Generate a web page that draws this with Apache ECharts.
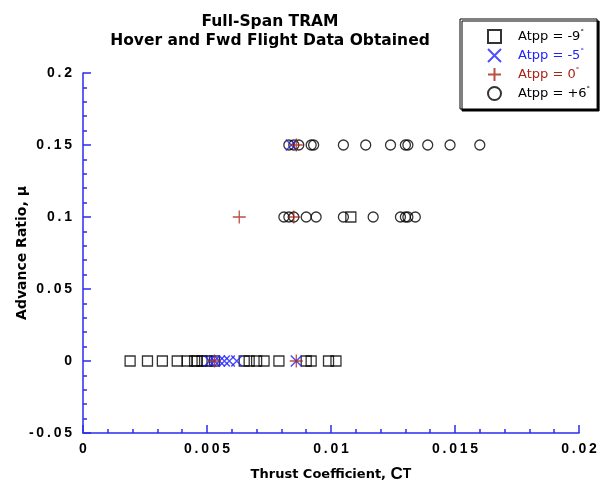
<!DOCTYPE html>
<html>
<head>
<meta charset="utf-8">
<script src="https://cdn.jsdelivr.net/npm/echarts@6/dist/echarts.min.js"></script>
<style>
  html, body { margin: 0; padding: 0; background: #fff; }
  #chart { width: 604px; height: 483px; }
</style>
</head>
<body>
<div id="chart"></div>
<script>
// Tick labels for both axes
const xTickLabels = ['0', '0.005', '0.01', '0.015', '0.02'];
const yTickLabels = ['-0.05', '0', '0.05', '0.1', '0.15', '0.2'];

// Legend / series names
const seriesNames = ['Atpp = -9°', 'Atpp = -5°', 'Atpp = 0°', 'Atpp = +6°'];

// Test points as [thrust coefficient CT, advance ratio mu]
const atppMinus9 = [
  [0.0019, 0], [0.0026, 0], [0.0032, 0], [0.0038, 0], [0.0042, 0],
  [0.0045, 0], [0.0046, 0], [0.0048, 0], [0.0050, 0], [0.0053, 0],
  [0.0065, 0], [0.0067, 0], [0.0070, 0], [0.0073, 0], [0.0079, 0],
  [0.0090, 0], [0.0092, 0], [0.0099, 0], [0.0102, 0],
  [0.0108, 0.1]
];
const atppMinus5 = [
  [0.0051, 0], [0.0053, 0], [0.0055, 0], [0.0057, 0], [0.0059, 0],
  [0.0062, 0], [0.0086, 0],
  [0.0084, 0.15]
];
const atppZero = [
  [0.0053, 0], [0.0086, 0],
  [0.0063, 0.1], [0.0085, 0.1],
  [0.0086, 0.15]
];
const atppPlus6 = [
  [0.0081, 0.1], [0.0083, 0.1], [0.0085, 0.1], [0.0090, 0.1], [0.0094, 0.1],
  [0.0105, 0.1], [0.0117, 0.1], [0.0128, 0.1], [0.0130, 0.1], [0.0131, 0.1],
  [0.0134, 0.1],
  [0.0083, 0.15], [0.0085, 0.15], [0.0087, 0.15], [0.0092, 0.15], [0.0093, 0.15],
  [0.0105, 0.15], [0.0114, 0.15], [0.0124, 0.15], [0.0130, 0.15], [0.0131, 0.15],
  [0.0139, 0.15], [0.0148, 0.15], [0.0160, 0.15]
];

const FONT = '"Liberation Sans", Arial, sans-serif';
const WIDE = '"DejaVu Sans", sans-serif';
const AXIS_BLUE = '#2b2bf0';
const BLUE = '#2222ff';
const RED = '#a82414';

// widen the digits a little, the way the axis labels are set
const spaced = s => s.split('').join('\u2009');

const crossPath = 'path://M0,0L10,10M0,10L10,0';
const plusPath = 'path://M5,0L5,10M0,5L10,5';

const chart = echarts.init(document.getElementById('chart'), null, { renderer: 'canvas' });

const axisCommon = {
  axisLine: { show: true, onZero: false, lineStyle: { color: AXIS_BLUE, width: 1.5 } },
  axisTick: { show: true, inside: true, length: 8, lineStyle: { color: AXIS_BLUE, width: 1.5 } },
  minorTick: { show: true, splitNumber: 5, length: 4, lineStyle: { color: AXIS_BLUE, width: 1.5 } },
  splitLine: { show: false },
  minorSplitLine: { show: false }
};

chart.setOption({
  animation: false,
  backgroundColor: '#fff',
  title: {
    text: 'Full-Span TRAM\nHover and Fwd Flight Data Obtained',
    left: 265,
    top: 7,
    textAlign: 'center',
    textStyle: { fontFamily: WIDE, fontSize: 15.5, fontWeight: 'bold', color: '#000', lineHeight: 19 }
  },
  legend: {
    orient: 'vertical',
    left: 460,
    top: 19,
    padding: [10, 7, 8, 27],
    itemWidth: 13,
    itemHeight: 13,
    itemGap: 4,
    backgroundColor: '#fff',
    borderColor: '#000',
    borderWidth: 1,
    borderRadius: 0,
    shadowColor: '#000',
    shadowBlur: 0,
    shadowOffsetX: 2,
    shadowOffsetY: 2,
    formatter: name => '{t|' + name.replace('°', '') + '}{d|°}',
    textStyle: {
      fontFamily: WIDE,
      fontSize: 13,
      padding: [0, 0, 0, 12],
      rich: {
        t: { fontFamily: WIDE, fontSize: 13, lineHeight: 15 },
        d: { fontFamily: WIDE, fontSize: 7, lineHeight: 15, verticalAlign: 'top' }
      }
    },
    data: [
      { name: seriesNames[0], textStyle: { color: '#000' } },
      { name: seriesNames[1], textStyle: { color: BLUE } },
      { name: seriesNames[2], textStyle: { color: RED } },
      { name: seriesNames[3], textStyle: { color: '#000' } }
    ]
  },
  grid: { left: 83, right: 25, top: 73, bottom: 50, containLabel: false, outerBoundsMode: 'none' },
  xAxis: Object.assign({
    type: 'value',
    min: 0,
    max: 0.02,
    interval: 0.005,
    name: 'Thrust Coefficient, {c|C}{t|T}',
    nameLocation: 'middle',
    nameGap: 33,
    nameMoveOverlap: false,
    nameTextStyle: {
      fontFamily: WIDE, fontSize: 13, fontWeight: 'bold', color: '#000',
      rich: {
        c: { fontFamily: FONT, fontSize: 17, fontWeight: 'bold', color: '#000' },
        t: { fontFamily: FONT, fontSize: 14, fontWeight: 'bold', color: '#000' }
      }
    },
    axisLabel: {
      margin: 9,
      fontFamily: FONT, fontSize: 14, fontWeight: 'bold', color: '#000',
      formatter: (v, i) => spaced(xTickLabels[i])
    }
  }, axisCommon),
  yAxis: Object.assign({
    type: 'value',
    min: -0.05,
    max: 0.2,
    interval: 0.05,
    name: 'Advance Ratio, μ',
    nameLocation: 'middle',
    nameGap: 54,
    nameMoveOverlap: false,
    nameTextStyle: { fontFamily: WIDE, fontSize: 14, fontWeight: 'bold', color: '#000' },
    axisLabel: {
      margin: 11,
      fontFamily: FONT, fontSize: 14, fontWeight: 'bold', color: '#000',
      formatter: (v, i) => spaced(yTickLabels[i])
    }
  }, axisCommon),
  series: [
    {
      name: seriesNames[0], type: 'scatter', data: atppMinus9, z: 2,
      symbol: 'rect', symbolSize: 10,
      itemStyle: { color: 'transparent', borderColor: '#000', borderWidth: 1.3 }
    },
    {
      name: seriesNames[1], type: 'scatter', data: atppMinus5, z: 4,
      symbol: crossPath, symbolSize: 11,
      itemStyle: { color: 'transparent', borderColor: BLUE, borderWidth: 1.5 }
    },
    {
      name: seriesNames[2], type: 'scatter', data: atppZero, z: 5,
      symbol: plusPath, symbolSize: 13,
      itemStyle: { color: 'transparent', borderColor: RED, borderWidth: 1.3 }
    },
    {
      name: seriesNames[3], type: 'scatter', data: atppPlus6, z: 3,
      symbol: 'circle', symbolSize: 10,
      itemStyle: { color: 'transparent', borderColor: '#000', borderWidth: 1.3 }
    }
  ]
});
</script>
</body>
</html>
